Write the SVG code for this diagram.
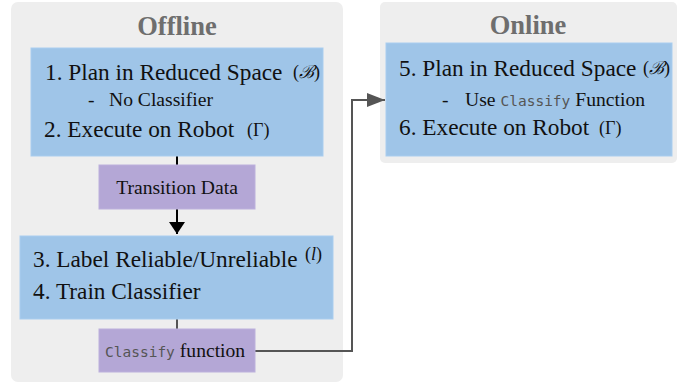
<svg xmlns="http://www.w3.org/2000/svg" width="694" height="386" viewBox="0 0 694 386">
<defs>
<style>
.panel{fill:#eeeeee}
.blue{fill:#9fc5e8;stroke:#a9cdef;stroke-width:1}
.purple{fill:#b4a7d6;stroke:#bcb0dc;stroke-width:1}
.title{font-family:"Liberation Serif",serif;font-weight:bold;font-size:26.5px;fill:#6e6e6e;text-anchor:middle}
.t{font-family:"Liberation Serif",serif;font-size:23.3px;fill:#111}
.s{font-family:"Liberation Serif",serif;font-size:19.6px;fill:#111}
.sym{font-family:"Liberation Serif",serif;font-size:18px;fill:#111}
.mono{font-family:"DejaVu Sans Mono","Liberation Mono",monospace;font-size:14.5px;fill:#555}
</style>
<marker id="ab" markerWidth="12" markerHeight="16" refX="12" refY="8" orient="auto" markerUnits="userSpaceOnUse"><path d="M0,0 L12,8 L0,16 Z" fill="#000"/></marker>
<marker id="ag" markerWidth="18" markerHeight="14" refX="18" refY="7" orient="auto" markerUnits="userSpaceOnUse"><path d="M0,0 L18,7 L0,14 Z" fill="#555"/></marker>
</defs>
<g id="offline-panel">
<rect class="panel" x="11" y="2" width="332" height="380" rx="7"/>
<text class="title" x="177" y="35">Offline</text>
</g>
<g id="online-panel">
<rect class="panel" x="380" y="2" width="297" height="161" rx="5"/>
<text class="title" x="528" y="34">Online</text>
</g>
<g id="connectors">
<line x1="177" y1="156" x2="177" y2="165" stroke="#000" stroke-width="2"/>
<line x1="177" y1="209" x2="177" y2="234" stroke="#000" stroke-width="2" marker-end="url(#ab)"/>
<line x1="177" y1="319" x2="177" y2="329" stroke="#555" stroke-width="2"/>
<polyline points="255,351 352,351 352,100 385,100" fill="none" stroke="#555" stroke-width="2" marker-end="url(#ag)"/>
</g>
<g id="step12">
<rect class="blue" x="31" y="48" width="292" height="108"/>
<text class="t" x="45" y="80">1. Plan in Reduced Space</text>
<text class="sym" x="293" y="78">(<tspan font-style="italic">ℬ</tspan>)</text>
<text class="s" x="88" y="106">-</text>
<text class="s" x="109" y="106">No Classifier</text>
<text class="t" x="44" y="137">2. Execute on Robot</text>
<text class="sym" x="247" y="136">(Γ)</text>
</g>
<g id="transition-data">
<rect class="purple" x="99" y="165" width="156" height="44"/>
<text class="s" x="177" y="194" text-anchor="middle">Transition Data</text>
</g>
<g id="step34">
<rect class="blue" x="20" y="236" width="313" height="83"/>
<text class="t" x="33" y="267">3. Label Reliable/Unreliable</text>
<text class="sym" x="305" y="260">(<tspan font-style="italic">l</tspan>)</text>
<text class="t" x="33" y="299">4. Train Classifier</text>
</g>
<g id="classify-function">
<rect class="purple" x="99" y="329" width="156" height="43"/>
<text x="105" y="357"><tspan class="mono">Classify</tspan><tspan class="s" dx="5">function</tspan></text>
</g>
<g id="step56">
<rect class="blue" x="386" y="43" width="286" height="113"/>
<text class="t" x="399" y="76">5. Plan in Reduced Space</text>
<text class="sym" x="643" y="74">(<tspan font-style="italic">ℬ</tspan>)</text>
<text class="s" x="442" y="106">-</text>
<text x="465" y="106"><tspan class="s">Use</tspan><tspan class="mono" dx="5">Classify</tspan><tspan class="s" dx="5">Function</tspan></text>
<text class="t" x="399" y="135">6. Execute on Robot</text>
<text class="sym" x="599" y="134">(Γ)</text>
</g>
</svg>
